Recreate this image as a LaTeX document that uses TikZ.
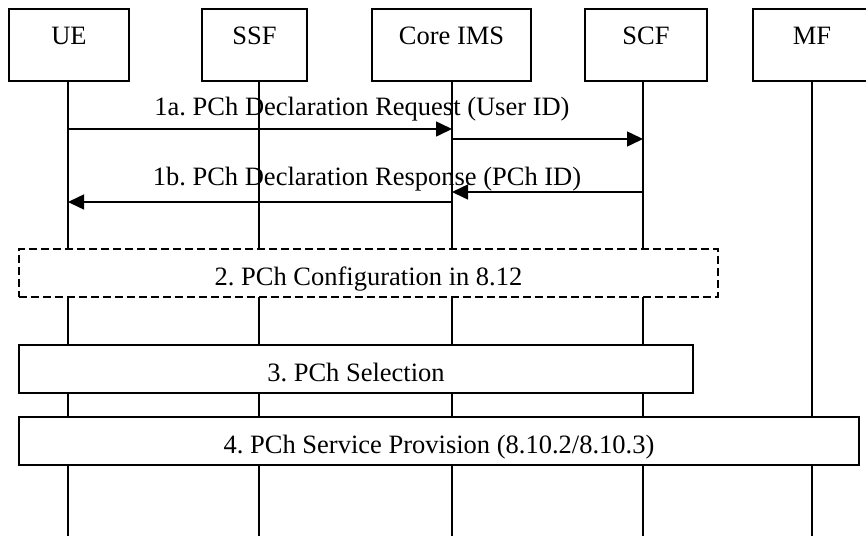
\documentclass[tikz,border=0pt]{standalone}
\usepackage{fontspec}
\setmainfont{Liberation Serif}
\usetikzlibrary{arrows.meta}
\tikzset{
    entity/.style={draw, line width=1.6pt, fill=white, inner sep=0pt, minimum height=72pt,
        text height=35pt, text depth=37pt},
    procbox/.style={draw, line width=1.6pt, fill=white, inner sep=0pt, minimum height=48pt,
        text height=24pt, text depth=0pt},
    lifeline/.style={line width=1.2pt},
    msg/.style={line width=1.5pt, -{Triangle[length=16pt,width=15pt]}}
}
\frenchspacing
\begin{document}
\begin{tikzpicture}[x=1pt, y=-1pt, font=\fontsize{26.5}{30}\selectfont]
        \useasboundingbox (0,0) rectangle (866,536);
        % entities
        \node [entity, minimum width=120pt] (ue) at (69,45) {UE};
        \node [entity, minimum width=105pt] (ssf) at (254.5,45) {SSF};
        \node [entity, minimum width=159pt] (core) at (451.5,45) {Core IMS};
        \node [entity, minimum width=122pt] (scf) at (646,45) {SCF};
        \node [entity, minimum width=118pt] (mf) at (812,45) {MF};
        \coordinate (ue-end) at (68,536);
        \coordinate (ssf-end) at (259,536);
        \coordinate (core-end) at (452,536);
        \coordinate (scf-end) at (643,536);
        \coordinate (mf-end) at (812,536);
        \foreach \n in {ue,ssf,core,scf,mf}
            \draw [lifeline] (\n-end |- \n.south) -- (\n-end);
        % messages
        \node [anchor=base] (req) at (362,115) {1a. PCh Declaration Request (User ID)};
        \draw [msg] (ue-end |- 0,129) -- (core-end |- 0,129);
        \draw [msg] (core-end |- 0,139) -- (scf-end |- 0,139);
        \node [anchor=base] (resp) at (367,185) {1b. PCh Declaration Response (PCh ID)};
        \draw [msg] (scf-end |- 0,192) -- (core-end |- 0,192);
        \draw [msg] (core-end |- 0,202) -- (ue-end |- 0,202);
        % steps
        \node [procbox, dash pattern=on 8pt off 4pt, line width=1.4pt, minimum width=699pt] (config) at (368.5,273) {2. PCh Configuration in 8.12};
        \node [procbox, minimum width=674pt] (select) at (356,369) {3. PCh Selection};
        \node [procbox, minimum width=840pt] (provision) at (439,441) {4. PCh Service Provision (8.10.2/8.10.3)};
    \end{tikzpicture}
\end{document}
